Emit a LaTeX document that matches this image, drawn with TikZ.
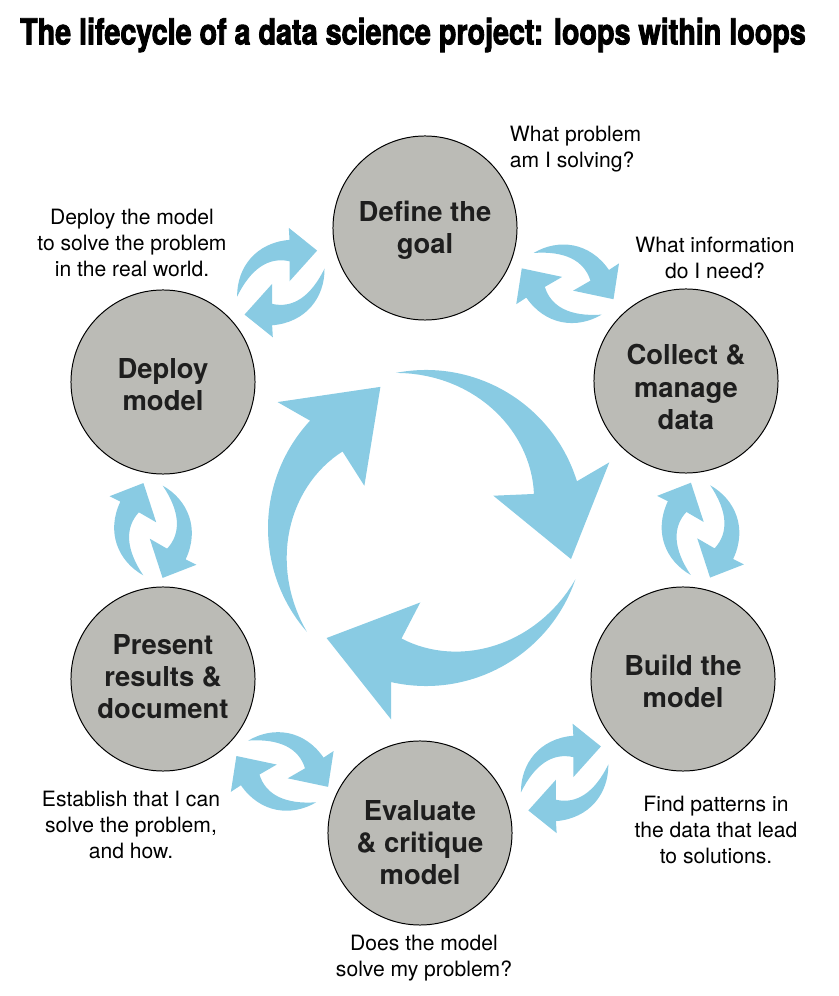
\documentclass[tikz,border=0pt]{standalone}
\usepackage{fontspec}
\setmainfont{TeX Gyre Heros}
\newfontfamily\titlefont[FakeStretch=0.8,FakeBold=2.4]{TeX Gyre Heros}
\usetikzlibrary{calc}

\definecolor{loopblue}{RGB}{137,203,227}
\definecolor{stagegray}{RGB}{187,187,182}
\definecolor{stagetext}{RGB}{30,30,30}

\tikzset{
  stage/.style={circle, draw=black, line width=0.7pt, fill=stagegray, minimum size=4.6cm, inner sep=0pt},
  stagelabel/.style={align=center, text=stagetext, font=\fontsize{19.5}{22.8}\selectfont\bfseries},
  note/.style={align=center, font=\fontsize{15}{18.5}\selectfont},
  bluearrow/.style={fill=loopblue}
}

% one half of a small two-arrow loop, centred on the origin
\newcommand{\syncarrow}{%
  \fill[bluearrow] (-43.7,-14) .. controls (-44,15) and (-25,40) .. (8.7,42.7)
    -- (8,54.7) -- (36.3,32) -- (8.7,1.3) -- (8.7,21.3)
    .. controls (-12,26) and (-30,14) .. (-43.7,-14) -- cycle;}

\begin{document}
\begin{tikzpicture}[x=0.025cm, y=0.025cm]
\useasboundingbox (0,0) rectangle (838,996);

\node[font=\titlefont\fontsize{25.5}{28}\selectfont\bfseries] (title) at (413,961)
  {The lifecycle of a data science project: loops within loops};

% big loop in the middle
\begin{scope}[shift={(426,468)}]
\foreach \t in {0,120,240}
  \fill[bluearrow, rotate=\t] (101:158) arc[start angle=101, end angle=17.2, radius=158]
    -- (19.7:194.7) -- (-12.1:148.3) -- (25.6:74.7) -- (17.5:113.2)
    -- plot[domain=17.5:101, samples=30] (\x:{113.2+44.8*(\x-17.5)/83.5}) -- cycle;
\end{scope}

% stages
\node[stage] (goal) at (425,768) {};
\node[stage] (collect) at (686,615) {};
\node[stage] (build) at (683,317) {};
\node[stage] (evaluate) at (420,163) {};
\node[stage] (present) at (163,317) {};
\node[stage] (deploy) at (163,614) {};

\node[stagelabel] (goaltext) at ($(goal)+(0,-2)$) {Define the\\goal};
\node[stagelabel] (collecttext) at ($(collect)+(0,-6)$) {Collect \&\\manage\\data};
\node[stagelabel] (buildtext) at ($(build)+(0,-2)$) {Build the\\model};
\node[stagelabel] (evaluatetext) at ($(evaluate)+(0,-10)$) {Evaluate\\\& critique\\model};
\node[stagelabel] (presenttext) at ($(present)+(0,2)$) {Present\\results \&\\document};
\node[stagelabel] (deploytext) at ($(deploy)+(0,-3)$) {Deploy\\model};

% small loops between neighbours
\foreach \a/\b/\d/\r in {deploy/goal/0.65/0, goal/collect/0.6/-60, collect/build/0.4/-120,
    build/evaluate/0.65/180, evaluate/present/0.45/120, present/deploy/0.25/60} {
  \coordinate (m) at ($(\a)!0.5!(\b)$);
  \begin{scope}[shift={($(m)!\d cm!90:(\b)$)}, rotate=\r]
    \syncarrow
    \begin{scope}[rotate=180] \syncarrow \end{scope}
  \end{scope}
}

% questions
\node[note, align=left, anchor=west] (goalnote) at (505,847) {What problem\\am I solving?};
\node[note] (collectnote) at (715,738) {What information\\do I need?};
\node[note] (buildnote) at (716,166) {Find patterns in\\the data that lead\\to solutions.};
\node[note] (evalnote) at (424,38) {Does the model\\solve my problem?};
\node[note] (presentnote) at (131,171) {Establish that I can\\solve the problem,\\and how.};
\node[note] (deploynote) at (132,753) {Deploy the model\\to solve the problem\\in the real world.};
\end{tikzpicture}
\end{document}
